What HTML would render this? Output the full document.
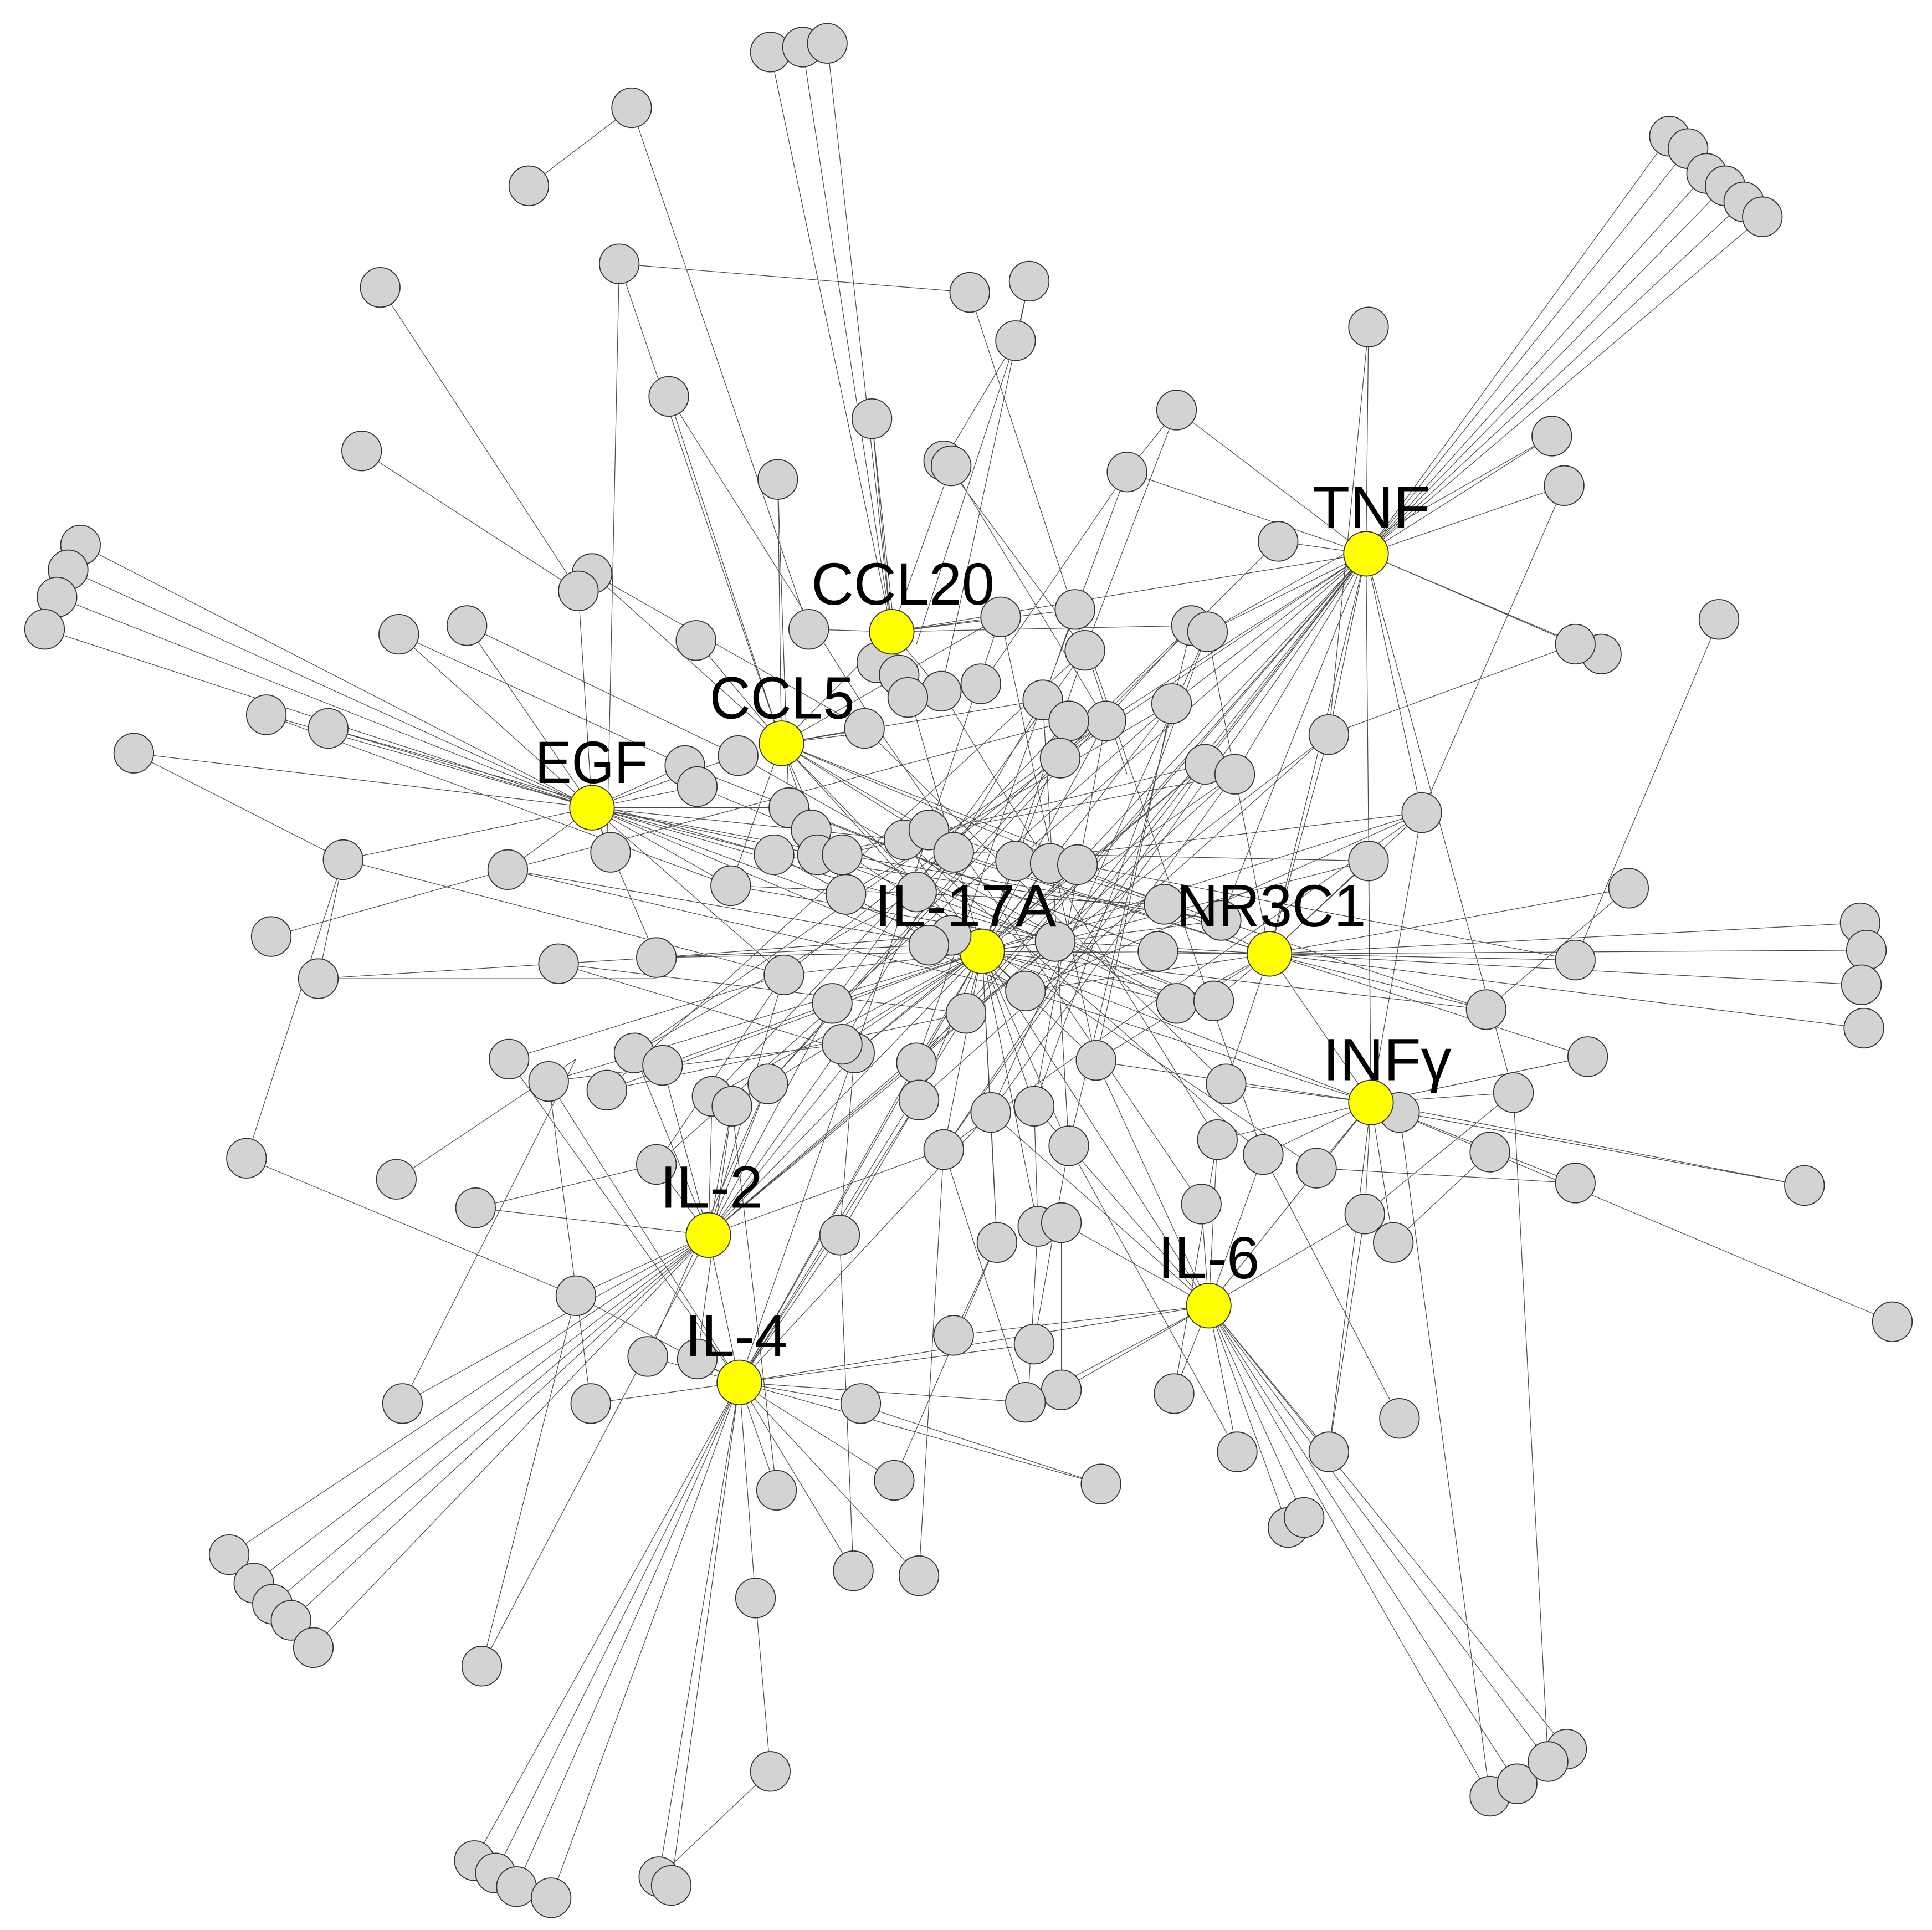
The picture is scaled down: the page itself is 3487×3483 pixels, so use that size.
<!DOCTYPE html>
<html><head><meta charset="utf-8"><style>html,body{margin:0;padding:0;background:#fff}svg{display:block}</style></head><body>
<svg width="3487" height="3483" viewBox="0 0 1560 1558" preserveAspectRatio="none" xmlns="http://www.w3.org/2000/svg">
<g stroke="#4a4a4a" stroke-width="0.55" fill="none">
<path d="M720 510L622 42M720 510L648 38M720 510L668 35M720 510L704 338M720 510L768 376M720 510L808 498M720 510L868 492M720 510L653 508M720 510L962 505M720 510L793 768M720 510L1103 447M720 510L631 600M720 510L708 535M720 510L760 558"/>
<path d="M1103 447L1348 110M1103 447L1363 120M1103 447L1378 140M1103 447L1393 150M1103 447L1408 163M1103 447L1423 175M1103 447L1105 264M1103 447L1253 352M1103 447L1263 392M1103 447L1272 520M1103 447L1293 528M1103 447L1032 437M1103 447L910 381M1103 447L950 331M1103 447L975 510M1103 447L946 568M1103 447L893 582M1103 447L856 612M1103 447L973 617M1103 447L997 625M1103 447L820 695M1103 447L852 760M1103 447L1073 593M1103 447L1148 656M1103 447L1222 882M1103 447L986 743M1103 447L1025 770M1103 447L870 698M1103 447L780 818M1103 447L828 800M1103 447L740 858M1103 447L762 928"/>
<path d="M478 652L65 440M478 652L55 460M478 652L46 482M478 652L36 508M478 652L108 608M478 652L215 577M478 652L265 588M478 652L322 512M478 652L377 505M478 652L467 477M478 652L277 694M478 652L410 702M478 652L493 688M478 652L553 618M478 652L563 635M478 652L596 610M478 652L637 652M478 652L625 690M478 652L590 715M478 652L730 678M478 652L680 690M478 652L793 768M478 652L660 690M478 652L530 773M478 652L633 787M478 652L852 760M478 652L828 800"/>
<path d="M631 600L478 463M631 600L562 517M631 600L540 320M631 600L628 387M631 600L698 588M631 600L710 590M631 600L655 670M631 600L750 670M631 600L770 688M631 600L842 565M631 600L793 768M631 600L808 498M631 600L590 715M631 600L683 722M631 600L740 720M631 600L500 213M631 600L940 730M631 600L880 698"/>
<path d="M793 768L768 755M793 768L750 763M793 768L780 818M793 768L828 800M793 768L852 760M793 768L935 768M793 768L940 730M793 768L950 810M793 768L740 858M793 768L690 850M793 768L672 810M793 768L620 875M793 768L800 898M793 768L835 893M793 768L863 925M793 768L762 928M793 768L885 856M793 768L973 617M793 768L876 525M793 768L893 582M793 768L863 582M793 768L730 678M793 768L820 695M793 768L848 697M793 768L870 698M793 768L1025 770M793 768L1107 890M793 768L572 997M793 768L597 1116M793 768L976 1054M793 768L633 787M793 768L530 773M793 768L575 885M793 768L805 1003M793 768L838 990M793 768L680 843M793 768L742 888M793 768L946 568M793 768L997 625M793 768L986 743M793 768L980 808M793 768L1148 656M793 768L1200 815M793 768L490 880M793 768L443 873M793 768L410 702"/>
<path d="M1025 770L1502 745M1025 770L1507 767M1025 770L1503 795M1025 770L1505 830M1025 770L1272 775M1025 770L1200 815M1025 770L1148 656M1025 770L1105 695M1025 770L935 768M1025 770L950 810M1025 770L940 730M1025 770L980 808M1025 770L852 760M1025 770L828 800M1025 770L990 875M1025 770L1107 890M1025 770L1073 593M1025 770L975 510M1025 770L770 688M1025 770L885 856M1025 770L1315 717M1025 770L1282 853"/>
<path d="M1107 890L1102 980M1107 890L1125 1003M1107 890L1130 898M1107 890L1203 930M1107 890L1272 955M1107 890L1222 882M1107 890L1063 943M1107 890L1020 932M1107 890L983 920M1107 890L990 875M1107 890L1073 1172M1107 890L1103 447M1107 890L1148 656M1107 890L1105 695M1107 890L976 1054M1107 890L880 856M1107 890L828 800M1107 890L1457 957M1107 890L1282 853"/>
<path d="M572 997L185 1255M572 997L205 1278M572 997L220 1295M572 997L235 1308M572 997L253 1330M572 997L465 1046M572 997L325 1133M572 997L530 940M572 997L575 885M572 997L591 893M572 997L620 875M572 997L535 860M572 997L512 850M572 997L690 850M572 997L740 858M572 997L762 928M572 997L780 818M572 997L672 810M572 997L597 1116M572 997L389 1345M572 997L633 787M572 997L680 843M572 997L853 760M572 997L384 975"/>
<path d="M976 1054L1203 1450M976 1054L1225 1440M976 1054L1250 1422M976 1054L1265 1412M976 1054L1040 1233M976 1054L1053 1225M976 1054L999 1172M976 1054L1073 1172M976 1054L948 1125M976 1054L1102 980M976 1054L1020 932M976 1054L970 972M976 1054L983 920M976 1054L863 925M976 1054L835 893M976 1054L828 1132M976 1054L770 1078M976 1054L857 987M976 1054L885 856M976 1054L1107 890M976 1054L800 898M976 1054L857 1122"/>
<path d="M597 1116L383 1502M597 1116L400 1512M597 1116L417 1523M597 1116L445 1532M597 1116L532 1515M597 1116L542 1522M597 1116L610 1290M597 1116L627 1203M597 1116L689 1268M597 1116L695 1133M597 1116L722 1195M597 1116L477 1133M597 1116L523 1095M597 1116L563 1097M597 1116L465 1046M597 1116L410 855M597 1116L443 873M597 1116L678 997M597 1116L742 888M597 1116L740 858M597 1116L690 850M597 1116L800 898M597 1116L828 1132M597 1116L835 1085M597 1116L976 1054M597 1116L780 818M597 1116L742 1272M597 1116L889 1198"/>
<path d="M510 87L427 150M510 87L653 508M500 213L783 236M500 213L490 688M307 232L467 477M292 364L467 477M831 227L820 275M820 275L762 372M820 275L740 520M831 227L760 558M783 236L910 625M950 331L910 381M910 381L793 552M1388 500L1272 775M1315 717L1200 815M1457 957L1130 898M1528 1067L1203 930M1282 853L1107 890M108 608L277 694M277 694L199 935M219 756L410 702M257 790L277 694M257 790L530 790M257 790L530 773M199 935L465 1046M320 952L465 855M384 975L530 940M1130 1145L1020 932M889 1198L690 1133M1272 520L1073 593M622 1430L610 1290M622 1430L532 1515M389 1345L465 1046M1032 437L856 612M1105 264L1073 593M1263 392L1148 656M1253 352L975 510M1203 1450L1130 898M1250 1422L1222 882M742 1272L762 928M689 1268L678 997M722 1195L805 1003M1073 1172L1102 980M999 1172L863 925M1130 1145L1020 932M948 1125L983 920M627 1203L591 893M477 1133L443 873M325 1133L465 855M1222 882L1102 980M1203 930L1125 1003M1272 955L1063 943M410 702L863 582M490 880L876 525M512 850L893 582M530 940L946 568M620 875L962 505M690 850L973 617M740 858L997 625M742 888L1073 593M762 928L1148 656M800 898L975 510M835 893L893 582M863 925L842 565M885 856L808 498M1020 932L868 492M983 920L760 558M970 972L710 590M990 875L698 588M1063 943L655 670M1020 932L730 678M950 810L596 610M980 808L563 635M935 768L553 618M940 730L590 715M986 743L625 690M973 617L680 690M997 625L660 690M946 568L683 722M962 505L740 720M893 582L633 787M876 525L672 810M842 565L680 843M808 498L690 850M868 492L740 858M856 612L620 875M863 582L575 885M830 1132L838 990M857 1122L857 987M770 1078L805 1003M835 1085L863 925M828 1132L762 928M805 1003L800 898M838 990L835 893M678 997L742 888M678 997L690 850M523 1095L620 875M563 1097L591 893M530 940L633 787M535 860L672 810M451 778L690 850M451 778L780 818M411 855L633 787M443 873L680 843M490 880L780 818M512 850L740 720M530 773L768 755M530 773L750 763M590 715L852 760M625 690L828 800M637 652L935 768M655 670L950 810M660 690L980 808M680 690L986 743M730 678L1025 770M750 670L940 730M770 688L1105 695M820 695L1148 656M848 697L1200 815M870 698L1272 775M1105 695L852 760M1148 656L828 800M1073 593L780 818M973 617L762 928M997 625L800 898M975 510L835 893M962 505L863 925M946 568L885 856M910 381L842 565M950 331L876 525M762 372L876 525M768 376L893 582M704 338L726 545M540 320L710 590M628 387L637 652M478 463L698 588M377 505L596 610M322 512L553 618M265 588L625 690M215 577L590 715M410 702L828 800M277 694L633 787"/>
</g>
<g fill="#d3d3d3" stroke="#333" stroke-width="0.8">
<circle cx="622" cy="42" r="16"/><circle cx="648" cy="38" r="16"/><circle cx="668" cy="35" r="16"/><circle cx="510" cy="87" r="16"/><circle cx="427" cy="150" r="16"/><circle cx="500" cy="213" r="16"/><circle cx="307" cy="232" r="16"/><circle cx="783" cy="236" r="16"/><circle cx="831" cy="227" r="16"/><circle cx="820" cy="275" r="16"/><circle cx="540" cy="320" r="16"/><circle cx="704" cy="338" r="16"/><circle cx="762" cy="372" r="16"/><circle cx="768" cy="376" r="16"/><circle cx="628" cy="387" r="16"/><circle cx="292" cy="364" r="16"/><circle cx="950" cy="331" r="16"/><circle cx="910" cy="381" r="16"/><circle cx="1105" cy="264" r="16"/><circle cx="1348" cy="110" r="16"/><circle cx="1363" cy="120" r="16"/><circle cx="1378" cy="140" r="16"/><circle cx="1393" cy="150" r="16"/><circle cx="1408" cy="163" r="16"/><circle cx="1423" cy="175" r="16"/><circle cx="1253" cy="352" r="16"/><circle cx="1263" cy="392" r="16"/><circle cx="1032" cy="437" r="16"/><circle cx="1388" cy="500" r="16"/><circle cx="1293" cy="528" r="16"/><circle cx="1272" cy="520" r="16"/><circle cx="1073" cy="593" r="16"/><circle cx="1148" cy="656" r="16"/><circle cx="1105" cy="695" r="16"/><circle cx="1315" cy="717" r="16"/>
<circle cx="65" cy="440" r="16"/><circle cx="55" cy="460" r="16"/><circle cx="46" cy="482" r="16"/><circle cx="36" cy="508" r="16"/><circle cx="478" cy="463" r="16"/><circle cx="467" cy="477" r="16"/><circle cx="377" cy="505" r="16"/><circle cx="322" cy="512" r="16"/><circle cx="215" cy="577" r="16"/><circle cx="265" cy="588" r="16"/><circle cx="108" cy="608" r="16"/><circle cx="277" cy="694" r="16"/><circle cx="410" cy="702" r="16"/><circle cx="219" cy="756" r="16"/><circle cx="257" cy="790" r="16"/><circle cx="199" cy="935" r="16"/><circle cx="320" cy="952" r="16"/><circle cx="384" cy="975" r="16"/><circle cx="451" cy="778" r="16"/><circle cx="411" cy="855" r="16"/><circle cx="443" cy="873" r="16"/><circle cx="465" cy="1046" r="16"/><circle cx="490" cy="880" r="16"/><circle cx="512" cy="850" r="16"/><circle cx="530" cy="773" r="16"/><circle cx="477" cy="1133" r="16"/><circle cx="325" cy="1133" r="16"/><circle cx="185" cy="1255" r="16"/><circle cx="205" cy="1278" r="16"/><circle cx="220" cy="1295" r="16"/><circle cx="235" cy="1308" r="16"/><circle cx="253" cy="1330" r="16"/><circle cx="389" cy="1345" r="16"/><circle cx="383" cy="1502" r="16"/><circle cx="400" cy="1512" r="16"/><circle cx="417" cy="1523" r="16"/><circle cx="445" cy="1532" r="16"/><circle cx="532" cy="1515" r="16"/><circle cx="542" cy="1522" r="16"/><circle cx="622" cy="1430" r="16"/><circle cx="610" cy="1290" r="16"/><circle cx="689" cy="1268" r="16"/><circle cx="742" cy="1272" r="16"/><circle cx="627" cy="1203" r="16"/><circle cx="722" cy="1195" r="16"/><circle cx="695" cy="1133" r="16"/><circle cx="523" cy="1095" r="16"/><circle cx="563" cy="1097" r="16"/><circle cx="678" cy="997" r="16"/><circle cx="530" cy="940" r="16"/>
<circle cx="1502" cy="745" r="16"/><circle cx="1507" cy="767" r="16"/><circle cx="1503" cy="795" r="16"/><circle cx="1505" cy="830" r="16"/><circle cx="1272" cy="775" r="16"/><circle cx="1200" cy="815" r="16"/><circle cx="1282" cy="853" r="16"/><circle cx="1222" cy="882" r="16"/><circle cx="1203" cy="930" r="16"/><circle cx="1272" cy="955" r="16"/><circle cx="1457" cy="957" r="16"/><circle cx="1130" cy="898" r="16"/><circle cx="1102" cy="980" r="16"/><circle cx="1125" cy="1003" r="16"/><circle cx="1063" cy="943" r="16"/><circle cx="1020" cy="932" r="16"/><circle cx="983" cy="920" r="16"/><circle cx="970" cy="972" r="16"/><circle cx="990" cy="875" r="16"/><circle cx="1528" cy="1067" r="16"/><circle cx="1130" cy="1145" r="16"/><circle cx="1073" cy="1172" r="16"/><circle cx="999" cy="1172" r="16"/><circle cx="1040" cy="1233" r="16"/><circle cx="1053" cy="1225" r="16"/><circle cx="948" cy="1125" r="16"/><circle cx="889" cy="1198" r="16"/><circle cx="1203" cy="1450" r="16"/><circle cx="1225" cy="1440" r="16"/><circle cx="1265" cy="1412" r="16"/><circle cx="1250" cy="1422" r="16"/>
<circle cx="770" cy="1078" r="16"/><circle cx="835" cy="1085" r="16"/><circle cx="857" cy="1122" r="16"/><circle cx="828" cy="1132" r="16"/><circle cx="805" cy="1003" r="16"/><circle cx="838" cy="990" r="16"/><circle cx="857" cy="987" r="16"/><circle cx="762" cy="928" r="16"/><circle cx="863" cy="925" r="16"/><circle cx="800" cy="898" r="16"/><circle cx="835" cy="893" r="16"/><circle cx="885" cy="856" r="16"/><circle cx="740" cy="858" r="16"/><circle cx="742" cy="888" r="16"/><circle cx="690" cy="850" r="16"/><circle cx="620" cy="875" r="16"/><circle cx="575" cy="885" r="16"/><circle cx="591" cy="893" r="16"/><circle cx="535" cy="860" r="16"/><circle cx="633" cy="787" r="16"/><circle cx="672" cy="810" r="16"/><circle cx="680" cy="843" r="16"/><circle cx="780" cy="818" r="16"/><circle cx="828" cy="800" r="16"/><circle cx="935" cy="768" r="16"/><circle cx="940" cy="730" r="16"/><circle cx="950" cy="810" r="16"/><circle cx="980" cy="808" r="16"/><circle cx="986" cy="743" r="16"/>
<circle cx="653" cy="508" r="16"/><circle cx="562" cy="517" r="16"/><circle cx="708" cy="535" r="16"/><circle cx="726" cy="545" r="16"/><circle cx="760" cy="558" r="16"/><circle cx="792" cy="552" r="16"/><circle cx="808" cy="498" r="16"/><circle cx="868" cy="492" r="16"/><circle cx="876" cy="525" r="16"/><circle cx="842" cy="565" r="16"/><circle cx="893" cy="582" r="16"/><circle cx="863" cy="582" r="16"/><circle cx="946" cy="568" r="16"/><circle cx="962" cy="505" r="16"/><circle cx="975" cy="510" r="16"/><circle cx="973" cy="617" r="16"/><circle cx="997" cy="625" r="16"/><circle cx="856" cy="612" r="16"/><circle cx="698" cy="588" r="16"/><circle cx="733" cy="563" r="16"/><circle cx="596" cy="610" r="16"/><circle cx="553" cy="618" r="16"/><circle cx="563" cy="635" r="16"/><circle cx="637" cy="652" r="16"/><circle cx="655" cy="670" r="16"/><circle cx="660" cy="690" r="16"/><circle cx="680" cy="690" r="16"/><circle cx="730" cy="678" r="16"/><circle cx="750" cy="670" r="16"/><circle cx="770" cy="688" r="16"/><circle cx="820" cy="695" r="16"/><circle cx="848" cy="697" r="16"/><circle cx="870" cy="698" r="16"/><circle cx="625" cy="690" r="16"/><circle cx="590" cy="715" r="16"/><circle cx="493" cy="688" r="16"/><circle cx="683" cy="722" r="16"/><circle cx="740" cy="720" r="16"/>
</g>
<g fill="#ffff00" stroke="#333" stroke-width="0.8">
<circle cx="1103" cy="447" r="18"/><circle cx="720" cy="510" r="18"/><circle cx="631" cy="600" r="18"/><circle cx="478" cy="652" r="18"/><circle cx="793" cy="768" r="18"/><circle cx="1025" cy="770" r="18"/><circle cx="1107" cy="890" r="18"/><circle cx="572" cy="997" r="18"/><circle cx="976" cy="1054" r="18"/><circle cx="597" cy="1116" r="18"/>
</g>
<g fill="#d3d3d3" stroke="#333" stroke-width="0.8">
<circle cx="768" cy="755" r="16"/><circle cx="750" cy="763" r="16"/><circle cx="852" cy="760" r="16"/>
</g>
<g font-family="'Liberation Sans', sans-serif" font-size="48" fill="#000" lengthAdjust="spacingAndGlyphs">
<text x="1060" y="426" textLength="95" lengthAdjust="spacingAndGlyphs">TNF</text>
<text x="655" y="488" textLength="148" lengthAdjust="spacingAndGlyphs">CCL20</text>
<text x="573" y="580" textLength="117" lengthAdjust="spacingAndGlyphs">CCL5</text>
<text x="432" y="632" textLength="91" lengthAdjust="spacingAndGlyphs">EGF</text>
<text x="706" y="748" textLength="147" lengthAdjust="spacingAndGlyphs">IL-17A</text>
<text x="950" y="748" textLength="153" lengthAdjust="spacingAndGlyphs">NR3C1</text>
<text x="1068" y="872" textLength="104" lengthAdjust="spacingAndGlyphs">INFγ</text>
<text x="533" y="975" textLength="83" lengthAdjust="spacingAndGlyphs">IL-2</text>
<text x="935" y="1032" textLength="82" lengthAdjust="spacingAndGlyphs">IL-6</text>
<text x="553" y="1095" textLength="83" lengthAdjust="spacingAndGlyphs">IL-4</text>
</g>
</svg>
</body></html>
